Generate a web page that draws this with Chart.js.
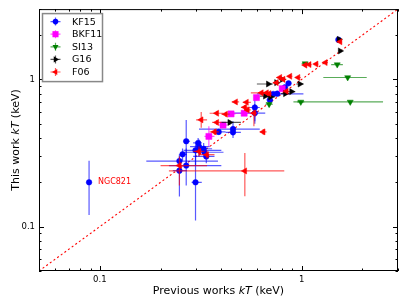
<!DOCTYPE html>
<html>
<head>
<meta charset="utf-8">
<script src="https://cdn.jsdelivr.net/npm/chart.js@4/dist/chart.umd.min.js"></script>
<style>
  html, body { margin: 0; padding: 0; background: #fff; }
  canvas { display: block; }
</style>
</head>
<body>
<canvas id="tempChart" width="407" height="305"></canvas>
<script>
// each row: [previous kT, this work kT, x low, x high, y low, y high] (keV)
const kf15 = [
    [0.0885, 0.20, null, null, 0.12, 0.28],
    [0.248, 0.279, 0.17, 0.385, 0.25, 0.31],
    [0.248, 0.24, 0.23, 0.27, 0.16, 0.30],
    [0.268, 0.26, 0.22, 0.40, 0.19, 0.34],
    [0.257, 0.31, 0.25, 0.27, 0.28, 0.34],
    [0.268, 0.38, 0.26, 0.28, 0.26, 0.53],
    [0.298, 0.20, 0.285, 0.32, 0.11, 0.325],
    [0.298, 0.33, 0.26, 0.40, 0.26, 0.36],
    [0.307, 0.37, 0.29, 0.32, 0.33, 0.40],
    [0.31, 0.35, 0.28, 0.35, 0.30, 0.39],
    [0.327, 0.338, 0.30, 0.36, 0.31, 0.37],
    [0.33, 0.32, 0.26, 0.41, 0.29, 0.35],
    [0.337, 0.30, 0.29, 0.37, 0.27, 0.33],
    [0.388, 0.44, 0.36, 0.42, 0.42, 0.46],
    [0.457, 0.46, 0.31, 0.62, 0.43, 0.52],
    [0.457, 0.437, 0.42, 0.50, 0.40, 0.48],
    [0.586, 0.59, 0.44, 0.66, 0.50, 0.68],
    [0.586, 0.644, 0.55, 0.62, 0.52, 0.76],
    [0.696, 0.725, 0.67, 0.72, 0.70, 0.75],
    [0.723, 0.796, 0.60, 1.02, 0.78, 0.82],
    [0.757, 0.80, 0.73, 0.78, 0.78, 0.82],
    [0.826, 0.883, 0.80, 0.85, 0.86, 0.91],
    [0.861, 0.94, 0.84, 0.88, 0.92, 0.96],
    [1.52, 1.86, 1.48, 1.56, 1.80, 1.92]
];
const bkf11 = [
    [0.347, 0.41, 0.33, 0.37, 0.35, 0.48],
    [0.408, 0.489, 0.39, 0.43, 0.47, 0.51],
    [0.447, 0.583, 0.43, 0.47, 0.56, 0.61],
    [0.519, 0.589, 0.44, 0.60, 0.57, 0.61],
    [0.597, 0.752, 0.58, 0.62, 0.72, 0.78],
    [0.801, 0.865, 0.78, 0.82, 0.84, 0.89]
];
const si13 = [
    [0.69, 0.678, 0.66, 0.72, 0.65, 0.70],
    [0.99, 0.703, 0.95, 1.03, 0.69, 0.72],
    [1.74, 0.703, 0.91, 2.53, 0.69, 0.72],
    [1.69, 1.03, 1.28, 2.10, 1.01, 1.05],
    [1.50, 1.26, 1.40, 1.60, 1.23, 1.29],
    [1.04, 1.28, 1.00, 1.08, 1.25, 1.31]
];
const g16 = [
    [0.683, 0.93, 0.60, 0.72, 0.91, 0.95],
    [0.75, 0.95, 0.72, 0.78, 0.93, 0.97],
    [0.80, 1.0, 0.77, 0.83, 0.98, 1.02],
    [0.98, 0.93, 0.94, 1.02, 0.91, 0.95],
    [0.89, 0.826, 0.85, 0.93, 0.81, 0.84],
    [0.83, 0.80, 0.79, 0.87, 0.78, 0.82],
    [0.66, 0.77, 0.62, 0.70, 0.75, 0.79],
    [0.70, 0.76, 0.67, 0.74, 0.74, 0.78],
    [0.44, 0.51, 0.40, 0.50, 0.49, 0.53],
    [1.55, 1.56, 1.52, 1.58, 1.53, 1.59],
    [1.53, 1.87, 1.50, 1.56, 1.84, 1.90]
];
const f06 = [
    [0.523, 0.239, 0.22, 0.82, 0.161, 0.316],
    [0.248, 0.26, 0.20, 0.34, 0.19, 0.30],
    [0.339, 0.308, 0.31, 0.37, 0.29, 0.33],
    [0.31, 0.324, 0.29, 0.33, 0.30, 0.35],
    [0.318, 0.531, 0.30, 0.34, 0.47, 0.60],
    [0.38, 0.589, 0.35, 0.41, 0.57, 0.61],
    [0.42, 0.58, 0.40, 0.44, 0.56, 0.60],
    [0.38, 0.51, 0.36, 0.40, 0.49, 0.53],
    [0.37, 0.44, 0.35, 0.39, 0.42, 0.46],
    [0.471, 0.703, 0.45, 0.49, 0.68, 0.72],
    [0.523, 0.646, 0.50, 0.55, 0.62, 0.67],
    [0.533, 0.699, 0.51, 0.56, 0.68, 0.72],
    [0.539, 0.62, 0.52, 0.56, 0.60, 0.64],
    [0.58, 0.59, 0.56, 0.60, 0.48, 0.62],
    [0.645, 0.44, 0.62, 0.67, 0.42, 0.46],
    [0.632, 0.81, 0.56, 0.66, 0.79, 0.83],
    [0.67, 0.81, 0.64, 0.70, 0.79, 0.83],
    [0.69, 0.80, 0.67, 0.71, 0.78, 0.82],
    [0.75, 0.95, 0.72, 0.78, 0.93, 0.97],
    [0.78, 1.03, 0.75, 0.81, 1.01, 1.05],
    [0.81, 1.0, 0.78, 0.84, 0.98, 1.02],
    [0.875, 1.05, 0.85, 0.90, 1.03, 1.07],
    [0.96, 1.03, 0.93, 0.99, 1.01, 1.05],
    [0.84, 0.83, 0.81, 0.87, 0.81, 0.85],
    [1.04, 1.25, 1.01, 1.07, 1.23, 1.27],
    [1.09, 1.26, 1.06, 1.12, 1.24, 1.28],
    [1.18, 1.27, 1.15, 1.21, 1.25, 1.29],
    [1.31, 1.30, 1.27, 1.35, 1.28, 1.32],
    [1.55, 1.80, 1.52, 1.58, 1.77, 1.83]
];

const axisMin = 0.05, axisMax = 3;
const majorTicks = [0.1, 1];
const minorTicks = [0.05, 0.06, 0.07, 0.08, 0.09, 0.2, 0.3, 0.4, 0.5, 0.6, 0.7, 0.8, 0.9, 2, 3];
const oneToOne = [0.05, 3];
const noteLabel = "NGC821";
const notePos = [0.098, 0.2];

function toPoints(rows) {
    return rows.map(r => ({x: r[0], y: r[1], xLo: r[2], xHi: r[3], yLo: r[4], yHi: r[5]}));
}

function series(label, rows, color, errColor, style, rot, radius, order) {
    return {
        label: label,
        data: toPoints(rows),
        backgroundColor: color,
        borderColor: color,
        pointStyle: style,
        rotation: rot,
        pointRadius: radius,
        pointHoverRadius: radius,
        pointBorderWidth: 0.5,
        errColor: errColor,
        order: order
    };
}

// draw each series' error bars right under its own markers
const errorBars = {
    id: "errorBars",
    beforeDatasetDraw(chart, args) {
        const ds = chart.data.datasets[args.index];
        if (!ds.errColor) return;
        const {ctx, chartArea, scales: {x, y}} = chart;
        ctx.save();
        ctx.beginPath();
        ctx.rect(chartArea.left, chartArea.top, chartArea.right - chartArea.left, chartArea.bottom - chartArea.top);
        ctx.clip();
        ctx.strokeStyle = ds.errColor;
        ctx.lineWidth = 1.2;
        ds.data.forEach(p => {
            const px = x.getPixelForValue(p.x), py = y.getPixelForValue(p.y);
            ctx.beginPath();
            if (p.xLo != null) {
                ctx.moveTo(x.getPixelForValue(p.xLo), py);
                ctx.lineTo(x.getPixelForValue(p.xHi), py);
            }
            if (p.yLo != null) {
                ctx.moveTo(px, y.getPixelForValue(p.yLo));
                ctx.lineTo(px, y.getPixelForValue(p.yHi));
            }
            ctx.stroke();
        });
        ctx.restore();
    }
};

function marker(ctx, style, rot, r, cx, cy) {
    ctx.beginPath();
    if (style === "circle") {
        ctx.arc(cx, cy, r, 0, Math.PI * 2);
    } else if (style === "rect") {
        const s = r * Math.SQRT1_2;
        ctx.rect(cx - s, cy - s, 2 * s, 2 * s);
    } else {
        let a = rot * Math.PI / 180;
        for (let k = 0; k < 3; k++) {
            const fx = cx + Math.sin(a) * r, fy = cy - Math.cos(a) * r;
            if (k === 0) ctx.moveTo(fx, fy); else ctx.lineTo(fx, fy);
            a += Math.PI * 2 / 3;
        }
        ctx.closePath();
    }
    ctx.fill();
}

// frame, inward ticks, axis titles, legend box and the NGC821 note
const decorations = {
    id: "decorations",
    afterDraw(chart) {
        const {ctx, chartArea: a, scales: {x, y}} = chart;
        ctx.save();
        ctx.strokeStyle = "#000";
        ctx.lineWidth = 1;
        ctx.strokeRect(a.left + 0.5, a.top + 0.5, a.right - a.left - 1, a.bottom - a.top - 1);
        const tick = (v, len) => {
            const px = Math.round(x.getPixelForValue(v)) + 0.5;
            const py = Math.round(y.getPixelForValue(v)) + 0.5;
            ctx.beginPath();
            ctx.moveTo(px, a.bottom); ctx.lineTo(px, a.bottom - len);
            ctx.moveTo(px, a.top); ctx.lineTo(px, a.top + len);
            ctx.moveTo(a.left, py); ctx.lineTo(a.left + len, py);
            ctx.moveTo(a.right, py); ctx.lineTo(a.right - len, py);
            ctx.stroke();
        };
        majorTicks.forEach(v => tick(v, 5));
        minorTicks.forEach(v => tick(v, 2.5));

        // axis titles with italic kT
        const parts = [["Previous works ", ""], ["kT", "italic "], [" (keV)", ""]];
        const partsY = [["This work ", ""], ["kT", "italic "], [" (keV)", ""]];
        const drawTitle = (segs, cx, cy, angle) => {
            ctx.save();
            ctx.translate(cx, cy);
            ctx.rotate(angle);
            ctx.fillStyle = "#000";
            ctx.textBaseline = "alphabetic";
            ctx.textAlign = "left";
            let total = 0;
            segs.forEach(s => { ctx.font = s[1] + "11px 'DejaVu Sans'"; total += ctx.measureText(s[0]).width; });
            let pos = -total / 2;
            segs.forEach(s => {
                ctx.font = s[1] + "11px 'DejaVu Sans'";
                ctx.fillText(s[0], pos, 0);
                pos += ctx.measureText(s[0]).width;
            });
            ctx.restore();
        };
        drawTitle(parts, (a.left + a.right) / 2, 294, 0);
        drawTitle(partsY, 19, (a.top + a.bottom) / 2, -Math.PI / 2);

        // note
        ctx.fillStyle = "#ff0000";
        ctx.font = "8px 'DejaVu Sans'";
        ctx.textBaseline = "middle";
        ctx.fillText(noteLabel, x.getPixelForValue(notePos[0]), y.getPixelForValue(notePos[1]));

        // legend
        const lx = a.left + 3.5, ly = a.top + 4.5;
        ctx.fillStyle = "#fff";
        ctx.fillRect(lx, ly, 60, 68);
        ctx.strokeStyle = "#888";
        ctx.lineWidth = 1.5;
        ctx.strokeRect(lx, ly, 60, 68);
        const items = chart.data.datasets.filter(d => d.errColor);
        items.forEach((d, i) => {
            const cy = ly + 8 + i * 12.6, cx = lx + 13;
            ctx.strokeStyle = d.errColor;
            ctx.lineWidth = 1.2;
            ctx.beginPath();
            ctx.moveTo(cx - 5, cy); ctx.lineTo(cx + 5, cy);
            ctx.moveTo(cx, cy - 4); ctx.lineTo(cx, cy + 4);
            ctx.stroke();
            ctx.fillStyle = d.backgroundColor;
            marker(ctx, d.pointStyle, d.rotation, d.pointRadius, cx, cy);
            ctx.fillStyle = "#000";
            ctx.font = "9.5px 'DejaVu Sans'";
            ctx.textBaseline = "middle";
            ctx.fillText(d.label, lx + 29.5, cy + 0.5);
        });
        ctx.restore();
    }
};

const ctx = document.getElementById("tempChart").getContext("2d");
const chart = new Chart(ctx, {
    type: "scatter",
    data: {
        datasets: [
            series("KF15", kf15, "#0000ff", "rgba(0,0,255,0.65)", "circle", 0, 2.8, 5),
            series("BKF11", bkf11, "#ff00ff", "rgba(255,0,255,0.65)", "rect", 0, 4.3, 4),
            series("SI13", si13, "#008000", "rgba(0,128,0,0.65)", "triangle", 180, 3.5, 3),
            series("G16", g16, "#000000", "rgba(0,0,0,0.65)", "triangle", 90, 3.5, 2),
            series("F06", f06, "#ff0000", "rgba(255,0,0,0.65)", "triangle", 270, 3.5, 1),
            {
                type: "line",
                label: "1:1",
                data: oneToOne.map(v => ({x: v, y: v})),
                borderColor: "#ff0000",
                borderWidth: 1.1,
                borderDash: [2, 2.5],
                pointRadius: 0,
                fill: false,
                order: 6
            }
        ]
    },
    options: {
        responsive: false,
        animation: false,
        layout: { padding: { top: 9, right: 9, left: 0, bottom: 0 } },
        plugins: { legend: { display: false }, tooltip: { enabled: false } },
        scales: {
            x: {
                type: "logarithmic",
                min: axisMin,
                max: axisMax,
                grid: { display: false, drawTicks: false },
                border: { display: false },
                afterBuildTicks: s => { s.ticks = majorTicks.map(v => ({value: v})); },
                afterFit: s => { s.height = 34; },
                ticks: {
                    autoSkip: false,
                    maxRotation: 0,
                    padding: 4,
                    color: "#000",
                    font: { family: "'DejaVu Sans'", size: 8.5 },
                    callback: v => String(v)
                }
            },
            y: {
                type: "logarithmic",
                min: axisMin,
                max: axisMax,
                grid: { display: false, drawTicks: false },
                border: { display: false },
                afterBuildTicks: s => { s.ticks = majorTicks.map(v => ({value: v})); },
                afterFit: s => { s.width = 39; },
                ticks: {
                    autoSkip: false,
                    padding: 4,
                    color: "#000",
                    font: { family: "'DejaVu Sans'", size: 8.5 },
                    callback: v => String(v)
                }
            }
        }
    },
    plugins: [errorBars, decorations]
});
</script>
</body>
</html>
